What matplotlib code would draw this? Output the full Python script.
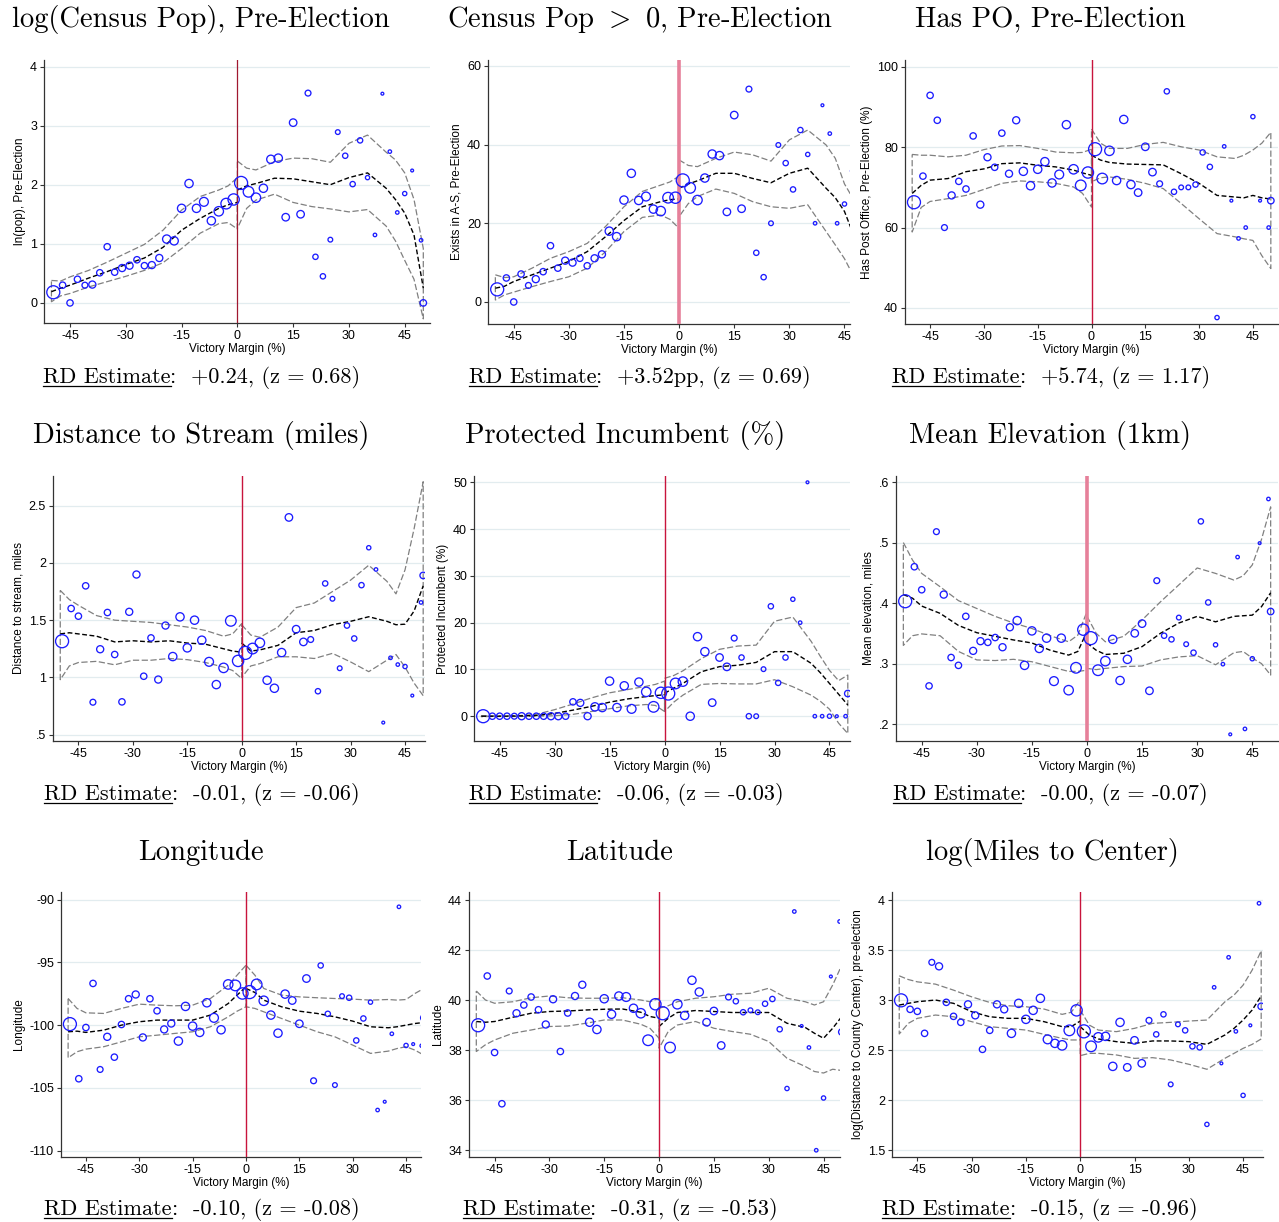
import numpy as np
import matplotlib
matplotlib.use("Agg")
import matplotlib.pyplot as plt
from matplotlib.lines import Line2D

W, H, DPI = 1279, 1222, 100
SANS = "Liberation Sans"
SERIF = ["cmr10", "DejaVu Serif"]
plt.rcParams["mathtext.fontset"] = "cm"
plt.rcParams["axes.unicode_minus"] = False
plt.rcParams["font.family"] = SANS

# bins of victory margin (%) and number of places in each bin
BIN_X = [-49.5] + list(range(-47, 48, 2)) + [49.4, 50]
BIN_N = [84, 20, 20, 20, 17, 25, 20, 20, 20, 25, 25, 20, 20, 25, 25, 34, 34, 34, 34, 34,
         39, 34, 44, 56, 63, 84, 56, 44, 34, 34, 34, 28, 28, 28, 17, 14, 14, 11, 11, 14,
         14, 14, 9, 6, 4, 6, 6, 9, 4, 6, 21]

# x grid of the local fits (left / right of the cutoff)
LX = [-50, -47.5, -45, -40, -35, -30, -25, -20, -15, -10, -5, -2.5, 0]
RX = [0, 2.5, 5, 10, 15, 20, 25, 30, 35, 40, 42.5, 45, 47.5, 50]

# log(Census Pop)
POP_Y = [0.18, 0.30, 0.00, 0.40, 0.30, 0.31, 0.51, 0.95, 0.52, 0.59, 0.63, 0.73, 0.63, 0.64,
         0.76, 1.08, 1.05, 1.60, 2.02, 1.60, 1.71, 1.39, 1.55, 1.68, 1.75, 2.03, 1.88, 1.78,
         1.94, 2.43, 2.45, 1.45, 3.05, 1.50, 3.55, 0.78, 0.45, 1.07, 2.89, 2.49, 2.01, 2.75,
         2.12, 1.15, 3.54, 2.56, 1.53, 1.85, 2.24, 1.06, 0.00]
POP_FIT_L = [0.19, 0.25, 0.30, 0.42, 0.53, 0.65, 0.76, 0.94, 1.23, 1.43, 1.60, 1.66, 1.70]
POP_UP_L = [0.38, 0.37, 0.44, 0.55, 0.69, 0.84, 0.99, 1.23, 1.57, 1.80, 1.91, 1.98, 2.12]
POP_LO_L = [0.02, 0.12, 0.16, 0.27, 0.36, 0.45, 0.55, 0.68, 0.92, 1.18, 1.34, 1.36, 1.25]
POP_FIT_R = [1.91, 1.98, 2.02, 2.11, 2.10, 2.05, 2.00, 2.12, 2.20, 1.94, 1.75, 1.52, 1.15, 0.25]
POP_UP_R = [2.40, 2.28, 2.25, 2.39, 2.45, 2.44, 2.38, 2.70, 2.84, 2.55, 2.42, 2.20, 1.75, 0.92]
POP_LO_R = [1.26, 1.60, 1.74, 1.84, 1.70, 1.63, 1.59, 1.54, 1.58, 1.30, 1.05, 0.72, 0.40, -0.27]

# Census Pop > 0
AS_Y = [3.2, 6.1, 0.0, 7.1, 4.2, 5.8, 7.7, 14.3, 8.6, 10.5, 10.0, 11.1, 9.2, 11.1, 12.1, 18.0,
        16.6, 25.9, 32.7, 25.8, 26.8, 23.6, 23.1, 26.5, 26.5, 30.9, 29.0, 25.9, 31.5, 37.6,
        37.2, 22.9, 47.5, 23.7, 54.1, 12.5, 6.3, 20.0, 39.9, 35.3, 28.6, 43.7, 37.5, 20.0,
        50.0, 42.8, 20.0, 24.9, 33.3, np.nan, np.nan]
AS_FIT_L = [3.5, 4.0, 5.2, 6.9, 8.6, 10.3, 12.8, 16.6, 20.7, 24.2, 25.5, 26.0, 26.2]
AS_UP_L = [6.9, 6.2, 6.4, 8.6, 11.1, 12.8, 14.9, 19.2, 24.2, 28.1, 29.7, 30.5, 32.0]
AS_LO_L = [0.5, 1.8, 2.5, 3.9, 5.2, 6.4, 8.6, 12.8, 17.9, 21.5, 22.1, 21.0, 18.7]
AS_FIT_R = [28.9, 30.0, 30.8, 32.7, 32.7, 31.4, 30.3, 32.7, 34.0, 28.9, 26.5, 23.0, 17.0, 11.0]
AS_UP_R = [36.1, 34.7, 34.4, 36.5, 38.1, 37.4, 35.8, 41.2, 43.7, 39.9, 36.5, 30.0, 26.0, 20.0]
AS_LO_R = [21.7, 25.0, 26.8, 28.7, 27.6, 25.5, 24.2, 23.8, 24.7, 17.9, 14.5, 11.0, 6.5, 3.0]

# Has PO
PO_Y = [66.3, 72.8, 92.9, 86.7, 60.0, 68.0, 71.5, 69.6, 82.8, 65.7, 77.5, 75.0, 83.5, 73.4,
        86.7, 74.0, 70.4, 74.5, 76.4, 71.1, 73.2, 85.6, 74.5, 70.5, 73.7, 79.5, 72.2, 79.1,
        71.7, 86.9, 70.7, 68.7, 80.1, 73.8, 70.9, 93.9, 68.9, 70.0, 70.0, 70.7, 78.7, 75.1,
        37.6, 80.2, 66.7, 57.3, 60.0, 87.6, 66.7, 60.0, 66.7]
PO_FIT_L = [68.5, 70.5, 71.8, 72.2, 73.9, 74.6, 75.9, 76.1, 75.5, 75.1, 74.3, 73.6, 73.0]
PO_UP_L = [78.2, 78.0, 78.0, 77.6, 78.0, 79.4, 80.3, 80.4, 79.7, 78.8, 78.6, 78.7, 79.5]
PO_LO_L = [58.9, 65.0, 66.5, 67.2, 68.0, 69.5, 71.0, 71.6, 71.4, 71.0, 70.1, 68.5, 65.1]
PO_FIT_R = [78.0, 76.8, 76.2, 75.8, 75.7, 75.6, 73.4, 71.0, 68.0, 67.6, 67.4, 68.0, 67.4, 67.1]
PO_UP_R = [84.5, 81.0, 79.7, 79.7, 80.7, 81.2, 80.1, 79.3, 77.6, 77.2, 78.0, 79.3, 81.0, 83.7]
PO_LO_R = [71.4, 72.4, 72.6, 72.0, 71.0, 69.7, 66.0, 62.2, 58.5, 57.7, 57.2, 56.8, 53.0, 49.8]

# Distance to stream
STREAM_Y = [1.316, 1.602, 1.535, 1.80, 0.783, 1.246, 1.567, 1.200, 0.786, 1.573, 1.899, 1.010,
            1.345, 0.981, 1.453, 1.182, 1.529, 1.258, 1.500, 1.325, 1.136, 0.937, 1.083, 1.494,
            1.144, 1.214, 1.252, 1.302, 0.975, 0.905, 1.217, 2.398, 1.421, 1.310, 1.331, 0.879,
            1.821, 1.687, 1.080, 1.453, 1.340, 1.806, 2.133, 1.943, 0.605, 1.171, 1.112, 1.095,
            0.841, 1.655, 1.891]
STREAM_FIT_L = [1.38, 1.39, 1.38, 1.36, 1.31, 1.32, 1.31, 1.32, 1.30, 1.29, 1.25, 1.23, 1.22]
STREAM_UP_L = [1.76, 1.68, 1.63, 1.54, 1.50, 1.49, 1.48, 1.46, 1.44, 1.41, 1.36, 1.38, 1.47]
STREAM_LO_L = [0.98, 1.10, 1.13, 1.14, 1.11, 1.15, 1.15, 1.165, 1.155, 1.13, 1.09, 1.06, 0.99]
STREAM_FIT_R = [1.30, 1.23, 1.24, 1.28, 1.39, 1.41, 1.46, 1.49, 1.53, 1.49, 1.46, 1.465, 1.58, 1.80]
STREAM_UP_R = [1.46, 1.37, 1.35, 1.44, 1.61, 1.65, 1.75, 1.85, 1.98, 1.84, 1.73, 1.94, 2.30, 2.71]
STREAM_LO_R = [1.00, 1.10, 1.12, 1.18, 1.18, 1.165, 1.21, 1.135, 1.05, 1.15, 1.20, 1.09, 0.95, 0.84]

# Protected incumbent
INC_Y = [0, 0, 0, 0, 0, 0, 0, 0, 0, 0, 0, 0, 3.07, 2.85, 0, 2.0, 1.85, 7.5, 1.85, 6.5, 1.57,
         7.3, 5.2, 2.0, 5.0, 4.85, 7.0, 7.4, 0, 17.0, 13.8, 2.9, 12.55, 10.55, 16.7, 12.55, 0,
         0, 10.06, 23.5, 7.13, 12.55, 25.0, 20.0, 50.0, 0, 0, 0, 0, 0, 4.85]
INC_FIT_L = [0, 0, 0, 0.05, 0.15, 0.6, 1.3, 2.1, 3.0, 3.7, 4.2, 4.4, 4.6]
INC_UP_L = [0.1, 0.05, 0.05, 0.1, 0.4, 1.4, 2.6, 3.9, 5.0, 5.7, 6.4, 6.8, 7.5]
INC_LO_L = [-0.1, -0.05, -0.05, -0.05, 0.0, 0.1, 0.4, 1.0, 1.6, 2.2, 2.5, 2.3, 1.0]
INC_FIT_R = [4.9, 6.0, 7.0, 9.5, 10.6, 10.9, 11.5, 13.8, 13.8, 11.3, 9.3, 7.0, 4.7, 2.4]
INC_UP_R = [8.1, 8.7, 9.7, 12.3, 14.3, 15.0, 15.2, 20.3, 21.2, 16.0, 12.8, 9.8, 7.6, 8.8]
INC_LO_R = [1.0, 3.0, 4.5, 6.8, 7.0, 6.9, 6.9, 7.8, 6.3, 4.5, 3.2, 1.5, -1.5, -3.7]

# Mean elevation
ELEV_Y = [0.403, 0.460, 0.422, 0.263, 0.518, 0.414, 0.310, 0.297, 0.378, 0.321, 0.337, 0.335,
          0.343, 0.327, 0.360, 0.371, 0.297, 0.354, 0.325, 0.342, 0.271, 0.342, 0.256, 0.293,
          0.356, 0.342, 0.289, 0.304, 0.340, 0.272, 0.307, 0.350, 0.366, 0.255, 0.437, 0.346,
          0.340, 0.376, 0.332, 0.318, 0.535, 0.401, 0.331, 0.299, 0.183, 0.476, 0.192, 0.308,
          0.499, 0.572, 0.386]
ELEV_FIT_L = [0.414, 0.408, 0.395, 0.383, 0.363, 0.351, 0.345, 0.339, 0.334, 0.322, 0.314, 0.320, 0.353]
ELEV_UP_L = [0.500, 0.471, 0.449, 0.427, 0.404, 0.391, 0.378, 0.367, 0.358, 0.346, 0.336, 0.347, 0.386]
ELEV_LO_L = [0.330, 0.346, 0.349, 0.346, 0.320, 0.306, 0.305, 0.307, 0.303, 0.295, 0.287, 0.287, 0.289]
ELEV_FIT_R = [0.334, 0.322, 0.315, 0.317, 0.328, 0.350, 0.367, 0.378, 0.369, 0.378, 0.379, 0.380, 0.394, 0.417]
ELEV_UP_R = [0.378, 0.350, 0.336, 0.345, 0.372, 0.402, 0.430, 0.458, 0.449, 0.438, 0.445, 0.463, 0.505, 0.559]
ELEV_LO_R = [0.292, 0.290, 0.292, 0.295, 0.296, 0.306, 0.311, 0.313, 0.298, 0.318, 0.320, 0.309, 0.300, 0.281]

# Longitude
LON_Y = [-99.92, -104.27, -100.19, -96.68, -103.53, -100.93, -102.55, -99.95, -97.90, -97.56,
         -100.98, -97.90, -98.86, -100.34, -99.87, -101.27, -98.51, -100.08, -100.58, -98.22,
         -99.42, -100.37, -96.76, -96.84, -97.48, -97.37, -96.76, -98.06, -99.20, -100.64,
         -97.53, -98.04, -99.89, -96.29, -104.43, -95.25, -99.10, -104.77, -97.69, -97.82,
         -101.22, -99.47, -98.17, -106.76, -106.10, -100.69, -90.58, -101.62, -101.51,
         -101.64, -99.42]
LON_FIT_L = [-100.53, -100.48, -100.58, -100.40, -100.0, -99.73, -99.60, -99.60, -99.60, -99.20, -98.28, -97.61, -96.95]
LON_UP_L = [-97.88, -98.67, -99.02, -99.07, -98.67, -98.33, -98.41, -98.46, -98.41, -97.88, -96.82, -96.02, -95.23]
LON_LO_L = [-102.60, -102.12, -101.91, -101.72, -101.33, -100.93, -100.80, -100.66, -100.53, -100.13, -99.34, -98.89, -98.54]
LON_FIT_R = [-97.08, -97.40, -98.01, -98.54, -98.89, -99.07, -99.34, -99.68, -100.13, -100.21, -100.13, -100.0, -99.87, -99.79]
LON_UP_R = [-95.23, -96.02, -97.08, -97.61, -97.75, -97.82, -97.88, -97.93, -98.01, -97.96, -98.01, -97.96, -97.48, -97.08]
LON_LO_R = [-98.54, -98.67, -98.94, -99.47, -100.0, -100.53, -100.93, -101.59, -102.25, -102.07, -101.86, -101.72, -101.99, -102.39]

# Latitude
LAT_Y = [39.0, 40.97, 37.91, 35.86, 40.37, 39.48, 39.81, 40.13, 39.62, 39.03, 40.04, 37.95,
         39.49, 40.17, 40.62, 39.12, 38.83, 40.06, 39.44, 40.17, 40.13, 39.68, 39.48, 38.40,
         39.84, 39.48, 38.11, 39.84, 39.39, 40.80, 40.33, 39.12, 39.57, 38.19, 40.13, 39.96,
         39.52, 39.60, 39.52, 39.86, 40.05, 38.84, 36.47, 43.55, 38.97, 38.11, 34.0, 36.09,
         40.95, 43.15, 38.73]
LAT_FIT_L = [39.15, 39.12, 39.15, 39.32, 39.48, 39.55, 39.57, 39.61, 39.64, 39.65, 39.52, 39.35, 39.28]
LAT_UP_L = [40.37, 40.01, 39.88, 39.94, 40.10, 40.17, 40.10, 40.08, 40.08, 40.10, 40.01, 39.94, 40.08]
LAT_LO_L = [37.95, 38.22, 38.41, 38.68, 38.81, 38.95, 38.97, 39.08, 39.21, 39.21, 39.04, 38.88, 38.48]
LAT_FIT_R = [38.95, 39.28, 39.51, 39.59, 39.55, 39.51, 39.51, 39.51, 39.08, 38.91, 38.68, 38.48, 38.88, 39.35]
LAT_UP_R = [39.68, 39.78, 39.94, 40.08, 40.14, 40.24, 40.28, 40.48, 40.08, 39.94, 39.81, 39.94, 40.61, 41.41]
LAT_LO_R = [38.08, 38.75, 39.01, 39.15, 38.88, 38.75, 38.64, 38.35, 37.68, 37.35, 37.15, 37.09, 37.24, 37.19]

# log(miles to county center)
CENTER_Y = [3.00, 2.91, 2.89, 2.67, 3.38, 3.34, 2.98, 2.84, 2.78, 2.96, 2.85, 2.51, 2.70, 2.96,
            2.91, 2.67, 2.97, 2.81, 2.90, 3.02, 2.61, 2.57, 2.55, 2.70, 2.90, 2.69, 2.54, 2.63,
            2.64, 2.34, 2.78, 2.33, 2.60, 2.37, 2.80, 2.66, 2.86, 2.16, 2.76, 2.70, 2.54, 2.53,
            1.76, 3.13, 2.37, 3.43, 2.69, 2.05, 2.75, 3.97, 2.94]
CENTER_FIT_L = [2.953, 2.970, 2.986, 3.003, 2.970, 2.886, 2.836, 2.820, 2.820, 2.787, 2.737, 2.737, 2.793]
CENTER_UP_L = [3.245, 3.208, 3.185, 3.162, 3.102, 3.035, 2.979, 2.946, 2.936, 2.913, 2.860, 2.880, 3.003]
CENTER_LO_L = [2.664, 2.770, 2.820, 2.853, 2.836, 2.787, 2.737, 2.720, 2.703, 2.660, 2.620, 2.604, 2.604]
CENTER_FIT_R = [2.737, 2.654, 2.614, 2.587, 2.570, 2.594, 2.594, 2.587, 2.560, 2.654, 2.720, 2.803, 2.903, 3.043]
CENTER_UP_R = [2.903, 2.753, 2.703, 2.687, 2.720, 2.770, 2.780, 2.793, 2.803, 2.986, 3.053, 3.152, 3.302, 3.495]
CENTER_LO_R = [2.447, 2.470, 2.470, 2.454, 2.420, 2.427, 2.404, 2.361, 2.311, 2.421, 2.470, 2.520, 2.560, 2.614]

TITLES = ["log(Census Pop), Pre-Election", "Census Pop $>$ 0, Pre-Election", "Has PO, Pre-Election",
          "Distance to Stream (miles)", "Protected Incumbent (%)", "Mean Elevation (1km)",
          "Longitude", "Latitude", "log(Miles to Center)"]
YLABELS = ["ln(pop), Pre-Election", "Exists in A-S, Pre-Election", "Has Post Office, Pre-Election (%)",
           "Distance to stream, miles", "Protected Incumbent (%)", "Mean elevation, miles",
           "Longitude", "Latitude", "log(Distance to County Center), pre-election"]
RD_TEXT = ["+0.24, (z = 0.68)", "+3.52pp, (z = 0.69)", "+5.74, (z = 1.17)",
           "-0.01, (z = -0.06)", "-0.06, (z = -0.03)", "-0.00, (z = -0.07)",
           "-0.10, (z = -0.08)", "-0.31, (z = -0.53)", "-0.15, (z = -0.96)"]
YTICKS = [[0, 1, 2, 3, 4], [0, 20, 40, 60], [40, 60, 80, 100],
          [0.5, 1, 1.5, 2, 2.5], [0, 10, 20, 30, 40, 50], [0.2, 0.3, 0.4, 0.5, 0.6],
          [-110, -105, -100, -95, -90], [34, 36, 38, 40, 42, 44], [1.5, 2, 2.5, 3, 3.5, 4]]
YTICKLABELS = [None, None, None, [".5", "1", "1.5", "2", "2.5"], None,
               [".2", ".3", ".4", ".5", ".6"], None, None, ["1.5", "2", "2.5", "3", "3.5", "4"]]
XTICKS = [-45, -30, -15, 0, 15, 30, 45]

BLUE = "#1c1cff"
VTHIN = dict(color="#c8143c", lw=1.0)
VDARK = dict(color="#a01830", lw=0.9)
VPINK = dict(color="#e6809a", lw=2.6)

# layout (pixels): axes box, x upper limit, y limits, title centre, rd text start
PANELS = [
    dict(box=(44, 60, 430, 323), xmax=51.8, ylim=(-0.34, 4.11), tx=201, rdx=43, v=VDARK,
         y=POP_Y, lines=(POP_FIT_L, POP_UP_L, POP_LO_L, POP_FIT_R, POP_UP_R, POP_LO_R)),
    dict(box=(488, 60, 850, 324), xmax=46.5, ylim=(-5.6, 61.5), tx=640, rdx=469, v=VPINK,
         y=AS_Y, lines=(AS_FIT_L, AS_UP_L, AS_LO_L, AS_FIT_R, AS_UP_R, AS_LO_R)),
    dict(box=(905, 60, 1278, 324), xmax=52, ylim=(36, 101.7), tx=1050, rdx=892, v=VTHIN,
         y=PO_Y, lines=(PO_FIT_L, PO_UP_L, PO_LO_L, PO_FIT_R, PO_UP_R, PO_LO_R)),
    dict(box=(53, 476, 425, 741), xmax=50.5, ylim=(0.444, 2.76), tx=201, rdx=44, v=VTHIN,
         y=STREAM_Y, lines=(STREAM_FIT_L, STREAM_UP_L, STREAM_LO_L, STREAM_FIT_R, STREAM_UP_R, STREAM_LO_R)),
    dict(box=(474, 476, 850, 741), xmax=50.6, ylim=(-5.3, 51.35), tx=625, rdx=469, v=VTHIN,
         y=INC_Y, lines=(INC_FIT_L, INC_UP_L, INC_LO_L, INC_FIT_R, INC_UP_R, INC_LO_R)),
    dict(box=(896, 476, 1278, 741), xmax=52, ylim=(0.172, 0.610), tx=1050, rdx=893, v=VPINK,
         y=ELEV_Y, lines=(ELEV_FIT_L, ELEV_UP_L, ELEV_LO_L, ELEV_FIT_R, ELEV_UP_R, ELEV_LO_R)),
    dict(box=(61, 892, 421, 1157), xmax=49.2, ylim=(-110.5, -89.4), tx=201, rdx=44, v=VTHIN,
         y=LON_Y, lines=(LON_FIT_L, LON_UP_L, LON_LO_L, LON_FIT_R, LON_UP_R, LON_LO_R)),
    dict(box=(469, 892, 840, 1157), xmax=49.5, ylim=(33.73, 44.33), tx=620, rdx=463, v=VTHIN,
         y=LAT_Y, lines=(LAT_FIT_L, LAT_UP_L, LAT_LO_L, LAT_FIT_R, LAT_UP_R, LAT_LO_R)),
    dict(box=(892, 892, 1263, 1157), xmax=50.5, ylim=(1.434, 4.083), tx=1052, rdx=882, v=VTHIN,
         y=CENTER_Y, lines=(CENTER_FIT_L, CENTER_UP_L, CENTER_LO_L, CENTER_FIT_R, CENTER_UP_R, CENTER_LO_R)),
]
TITLE_BASE = [27, 443, 860]
RD_BASE = [383, 800, 1215]
TITLE_FS = 20.6
RD_FS = 16

fig = plt.figure(figsize=(W / DPI, H / DPI), dpi=DPI)
renderer = fig.canvas.get_renderer()
msize = 1.42 * np.sqrt(np.array(BIN_N)) * 72 / DPI

for i, p in enumerate(PANELS):
    row = i // 3
    l, t, r, b = p["box"]
    ax = fig.add_axes([l / W, 1 - b / H, (r - l) / W, (b - t) / H])
    ax.set_xlim(-52, p["xmax"])
    ax.set_ylim(*p["ylim"])
    for s in ("top", "right"):
        ax.spines[s].set_visible(False)
    for s in ("left", "bottom"):
        ax.spines[s].set_color("#333333")
        ax.spines[s].set_linewidth(0.9)
    ax.set_xticks(XTICKS)
    ax.set_yticks(YTICKS[i])
    if YTICKLABELS[i] is not None:
        ax.set_yticklabels(YTICKLABELS[i])
    ax.tick_params(direction="out", length=3, width=0.8, labelsize=9, pad=2, color="#333333")
    ax.set_xlabel("Victory Margin (%)", fontsize=8.5, labelpad=0.5)
    ax.set_ylabel(YLABELS[i], fontsize=8.5, labelpad=3)
    ax.yaxis.grid(True, color="#e2ecef", lw=0.9)
    ax.set_axisbelow(True)

    fit_l, up_l, lo_l, fit_r, up_r, lo_r = p["lines"]
    for xs, fit, up, lo in ((LX, fit_l, up_l, lo_l), (RX, fit_r, up_r, lo_r)):
        px = list(xs) + list(xs[::-1]) + [xs[0]]
        py = list(up) + list(lo[::-1]) + [up[0]]
        ax.plot(px, py, color="#808080", lw=0.9, ls=(0, (5, 2)), zorder=2)
        ax.plot(xs, fit, color="black", lw=1.0, ls=(0, (3.5, 1.8)), zorder=3)
    ax.axvline(0, zorder=3, **p["v"])
    ax.scatter(BIN_X, p["y"], s=msize ** 2, facecolors="none", edgecolors=BLUE,
               linewidths=0.95, zorder=4)

    fig.text(p["tx"] / W, 1 - TITLE_BASE[row] / H, TITLES[i], family=SERIF,
             fontsize=TITLE_FS, ha="center", va="baseline")

    yb = 1 - RD_BASE[row] / H
    lab = fig.text(p["rdx"] / W, yb, "RD Estimate", family=SERIF, fontsize=RD_FS, va="baseline")
    bb = lab.get_window_extent(renderer=renderer)
    yl = 1 - (RD_BASE[row] + 2.5) / H
    fig.add_artist(Line2D([bb.x0 / W, bb.x1 / W], [yl, yl], color="black", lw=0.9,
                          transform=fig.transFigure))
    fig.text(bb.x1 / W, yb, ":  " + RD_TEXT[i], family=SERIF, fontsize=RD_FS, va="baseline")

fig.savefig("out.png", dpi=DPI)
